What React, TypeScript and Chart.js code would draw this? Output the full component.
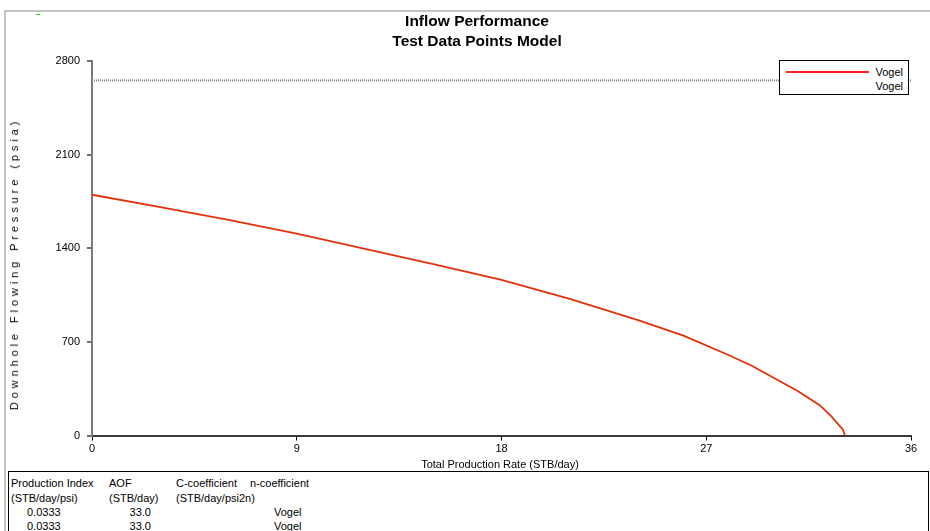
import React, { useEffect, useRef } from "react";
import { Chart, registerables } from "chart.js";

Chart.register(...registerables);

// Vogel IPR curve
const rateQ = [0, 3, 6, 9, 12, 15, 18, 21, 24, 26, 28, 29, 30, 31, 32, 32.5, 33, 33.1];
const pwf = [1800, 1707, 1612, 1510, 1396, 1281, 1163, 1022, 863, 747, 600, 522, 428, 334, 225, 143, 45, 0];

// horizontal reference (dotted) line
const refQ = [0, 36];
const refP = [2655, 2655];

const xTicks = [0, 9, 18, 27, 36];
const yTicks = [0, 700, 1400, 2100, 2800];

const titleLines = ["Inflow Performance", "Test Data Points Model"];
const xTitle = "Total Production Rate (STB/day)";
const yTitle = "Downhole Flowing Pressure (psia)";
const legendLabels = ["Vogel", "Vogel"];

const tableHeader1 = ["Production Index", "AOF", "C-coefficient", "n-coefficient"];
const tableHeader2 = ["(STB/day/psi)", "(STB/day)", "(STB/day/psi2n)", ""];
const tablePI = ["0.0333", "0.0333"];
const tableAOF = ["33.0", "33.0"];
const tableModel = ["Vogel", "Vogel"];

const FONT = "'Liberation Sans', Arial, sans-serif";

export default function App() {
  const ref = useRef<HTMLCanvasElement | null>(null);

  useEffect(() => {
    if (!ref.current) return;
    const chart = new Chart(ref.current, {
      type: "scatter",
      data: {
        datasets: [
          {
            label: legendLabels[0],
            data: rateQ.map((q, i) => ({ x: q, y: pwf[i] })),
            showLine: true,
            borderColor: "#e2300a",
            borderWidth: 1.8,
            pointRadius: 0,
            tension: 0,
          },
          {
            label: legendLabels[1],
            data: refQ.map((q, i) => ({ x: q, y: refP[i] })),
            showLine: true,
            borderColor: "#808080",
            borderWidth: 2,
            borderDash: [1, 1],
            pointRadius: 0,
          },
        ],
      },
      options: {
        animation: false,
        responsive: false,
        layout: { padding: { left: 0, right: 19, top: 61, bottom: 0 } },
        plugins: {
          legend: { display: false },
          title: { display: false },
          tooltip: { enabled: false },
        },
        scales: {
          x: {
            type: "linear",
            min: 0,
            max: 36,
            afterBuildTicks: (s: any) => {
              s.ticks = xTicks.map((v) => ({ value: v }));
            },
            afterFit: (s: any) => {
              s.height = 95.5;
            },
            ticks: {
              font: { family: FONT, size: 11 },
              color: "#000",
              padding: 2,
              maxRotation: 0,
              callback: (v: any) => String(v),
            },
            grid: { drawOnChartArea: false, tickLength: 5, color: "#000", lineWidth: 1 },
            border: { color: "#3a3a3a", width: 2 },
          },
          y: {
            type: "linear",
            min: 0,
            max: 2800,
            afterBuildTicks: (s: any) => {
              s.ticks = yTicks.map((v) => ({ value: v }));
            },
            afterFit: (s: any) => {
              s.width = 92;
            },
            ticks: {
              font: { family: FONT, size: 11 },
              color: "#000",
              padding: 7,
              callback: (v: any) => String(v),
            },
            grid: { drawOnChartArea: false, tickLength: 5, color: "#707070", lineWidth: 2 },
            border: { color: "#7a7a7a", width: 2 },
          },
        },
      },
    });
    return () => chart.destroy();
  }, []);

  const abs = (s: React.CSSProperties): React.CSSProperties => ({
    position: "absolute",
    fontFamily: FONT,
    fontSize: 11,
    color: "#000",
    whiteSpace: "nowrap",
    lineHeight: "14px",
    ...s,
  });

  const rowTop = [476, 491, 505, 519];

  return (
    <div style={{ position: "absolute", left: 0, top: 0, width: 930, height: 531, background: "#fff", overflow: "hidden" }}>
      {/* outer frame */}
      <div style={{ position: "absolute", left: 4, top: 10, width: 930, height: 540, border: "2px solid #c4c4c4", boxSizing: "border-box" }} />
      <div style={{ position: "absolute", left: 36, top: 14, width: 4, height: 1, background: "#22cc22" }} />
      <canvas ref={ref} width={930} height={531} style={{ position: "absolute", left: 0, top: 0 }} />

      {/* title */}
      <div style={abs({ left: 477, top: 11, transform: "translateX(-50%)", fontWeight: "bold", fontSize: 15.5, lineHeight: "20px", textAlign: "center" })}>
        {titleLines[0]}
        <br />
        {titleLines[1]}
      </div>

      {/* axis titles */}
      <div style={abs({ left: 500, top: 457, transform: "translateX(-50%)" })}>{xTitle}</div>
      <div
        style={abs({
          left: 14,
          top: 264,
          transform: "translate(-50%, -50%) rotate(-90deg)",
          letterSpacing: "3.9px",
        })}
      >
        {yTitle}
      </div>

      {/* legend */}
      <div style={{ position: "absolute", left: 779, top: 60, width: 130, height: 35, background: "#fff", border: "1px solid #000", boxSizing: "border-box" }}>
        <div style={{ position: "absolute", left: 6, top: 10, width: 83, height: 1.5, background: "#ff2020" }} />
        <div style={abs({ right: 5, top: 4, textAlign: "right" })}>{legendLabels[0]}</div>
        <div style={abs({ right: 5, top: 18, textAlign: "right" })}>{legendLabels[1]}</div>
      </div>

      {/* table */}
      <div style={{ position: "absolute", left: 8, top: 471, width: 921, height: 80, border: "1px solid #000", boxSizing: "border-box", background: "#fff" }} />
      <div style={abs({ left: 11, top: rowTop[0] })}>{tableHeader1[0]}</div>
      <div style={abs({ left: 109, top: rowTop[0] })}>{tableHeader1[1]}</div>
      <div style={abs({ left: 176, top: rowTop[0] })}>{tableHeader1[2]}</div>
      <div style={abs({ left: 250, top: rowTop[0] })}>{tableHeader1[3]}</div>
      <div style={abs({ left: 11, top: rowTop[1] })}>{tableHeader2[0]}</div>
      <div style={abs({ left: 109, top: rowTop[1] })}>{tableHeader2[1]}</div>
      <div style={abs({ left: 176, top: rowTop[1] })}>{tableHeader2[2]}</div>
      {tablePI.map((v, i) => (
        <React.Fragment key={i}>
          <div style={abs({ left: 27, top: rowTop[2 + i] })}>{v}</div>
          <div style={abs({ right: 930 - 151, top: rowTop[2 + i], textAlign: "right" })}>{tableAOF[i]}</div>
          <div style={abs({ left: 274, top: rowTop[2 + i] })}>{tableModel[i]}</div>
        </React.Fragment>
      ))}
    </div>
  );
}
